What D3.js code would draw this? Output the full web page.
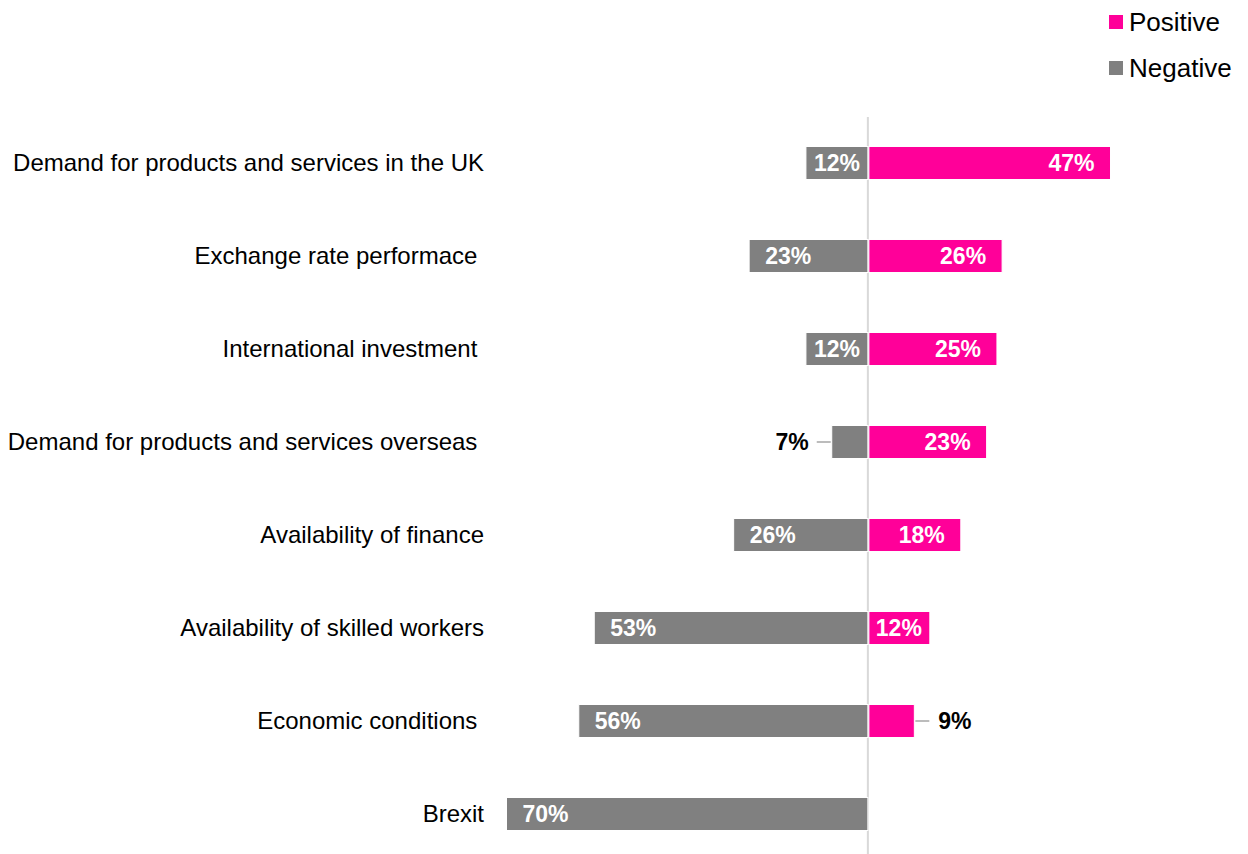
<!DOCTYPE html>
<html>
<head>
<meta charset="utf-8">
<script src="https://cdn.jsdelivr.net/npm/d3@7"></script>
<style>
  html, body { margin: 0; padding: 0; background: #ffffff; }
  svg { display: block; font-family: Arial, "Liberation Sans", sans-serif; }
  .cat { white-space: pre; }
</style>
</head>
<body>
<svg id="chart" width="1248" height="854"></svg>
<script>
// Factors affecting business outlook: share of firms rating each as positive / negative
const categories = [
  "Demand for products and services in the UK",
  "Exchange rate performace ",
  "International investment ",
  "Demand for products and services overseas ",
  "Availability of finance",
  "Availability of skilled workers",
  "Economic conditions ",
  "Brexit"
];
const positive = [47, 26, 25, 23, 18, 12, 9, 0];
const negative = [12, 23, 12, 7, 26, 53, 56, 70];
const seriesNames = ["Positive", "Negative"];
const colors = { Positive: "#FF0099", Negative: "#808080" };

const svg = d3.select("#chart");

const x = d3.scaleLinear().domain([-70, 50]).range([506.5, 1126.0]);
const y = d3.scaleBand()
  .domain(categories)
  .range([116.5, 860.5])
  .paddingInner(0.645)
  .paddingOuter(0.3225);

const bh = y.bandwidth();
const x0 = x(0);

// centre axis line
svg.append("line")
  .attr("x1", x0).attr("x2", x0)
  .attr("y1", 117).attr("y2", 854)
  .attr("stroke", "#d9d9d9").attr("stroke-width", 2);

const rows = categories.map((c, i) => ({ cat: c, pos: positive[i], neg: negative[i] }));

// negative bars (extend left from zero)
svg.selectAll("rect.neg").data(rows.filter(d => d.neg > 0)).join("rect")
  .attr("class", "neg")
  .attr("x", d => x(-d.neg))
  .attr("y", d => y(d.cat))
  .attr("width", d => x0 - x(-d.neg))
  .attr("height", bh)
  .attr("fill", colors.Negative)
  .attr("stroke", "#ffffff").attr("stroke-width", 1);

// positive bars (extend right from zero)
svg.selectAll("rect.pos").data(rows.filter(d => d.pos > 0)).join("rect")
  .attr("class", "pos")
  .attr("x", x0 + 1)
  .attr("y", d => y(d.cat))
  .attr("width", d => x(d.pos) - x0 - 1)
  .attr("height", bh)
  .attr("fill", colors.Positive)
  .attr("stroke", "#ffffff").attr("stroke-width", 1);

// category labels
svg.selectAll("text.cat").data(rows).join("text")
  .attr("class", "cat")
  .attr("x", 484)
  .attr("y", d => y(d.cat) + bh / 2)
  .attr("dy", "0.35em")
  .attr("text-anchor", "end")
  .attr("font-size", 24)
  .attr("fill", "#000000")
  .text(d => d.cat);

const smallLimit = 10;
const valueFont = 23;
const narrow = 80;

// negative value labels
rows.filter(d => d.neg > 0).forEach(d => {
  const cy = y(d.cat) + bh / 2;
  const bx = x(-d.neg);
  if (d.neg < smallLimit) {
    svg.append("line")
      .attr("x1", bx - 15).attr("x2", bx - 1)
      .attr("y1", cy).attr("y2", cy)
      .attr("stroke", "#a6a6a6").attr("stroke-width", 1.5);
    svg.append("text")
      .attr("x", bx - 23).attr("y", cy).attr("dy", "0.35em")
      .attr("text-anchor", "end")
      .attr("font-size", valueFont).attr("font-weight", "bold")
      .attr("fill", "#000000")
      .text(d.neg + "%");
  } else {
    const w = x0 - bx;
    const tx = w < narrow ? (bx + x0) / 2 : bx + 16;
    svg.append("text")
      .attr("x", tx).attr("y", cy).attr("dy", "0.35em")
      .attr("text-anchor", w < narrow ? "middle" : "start")
      .attr("font-size", valueFont).attr("font-weight", "bold")
      .attr("fill", "#ffffff")
      .text(d.neg + "%");
  }
});

// positive value labels
rows.filter(d => d.pos > 0).forEach(d => {
  const cy = y(d.cat) + bh / 2;
  const bx = x(d.pos);
  if (d.pos < smallLimit) {
    svg.append("line")
      .attr("x1", bx + 1).attr("x2", bx + 15)
      .attr("y1", cy).attr("y2", cy)
      .attr("stroke", "#a6a6a6").attr("stroke-width", 1.5);
    svg.append("text")
      .attr("x", bx + 24).attr("y", cy).attr("dy", "0.35em")
      .attr("text-anchor", "start")
      .attr("font-size", valueFont).attr("font-weight", "bold")
      .attr("fill", "#000000")
      .text(d.pos + "%");
  } else {
    const w = bx - x0;
    const tx = w < narrow ? (bx + x0) / 2 : bx - 16;
    svg.append("text")
      .attr("x", tx).attr("y", cy).attr("dy", "0.35em")
      .attr("text-anchor", w < narrow ? "middle" : "end")
      .attr("font-size", valueFont).attr("font-weight", "bold")
      .attr("fill", "#ffffff")
      .text(d.pos + "%");
  }
});

// legend
const legend = svg.append("g");
seriesNames.forEach((name, i) => {
  const ly = 22 + i * 46;
  legend.append("rect")
    .attr("x", 1109).attr("y", ly - 7)
    .attr("width", 14).attr("height", 14)
    .attr("fill", colors[name]);
  legend.append("text")
    .attr("x", 1129).attr("y", ly).attr("dy", "0.35em")
    .attr("font-size", 26).attr("fill", "#000000")
    .text(name);
});
</script>
</body>
</html>
